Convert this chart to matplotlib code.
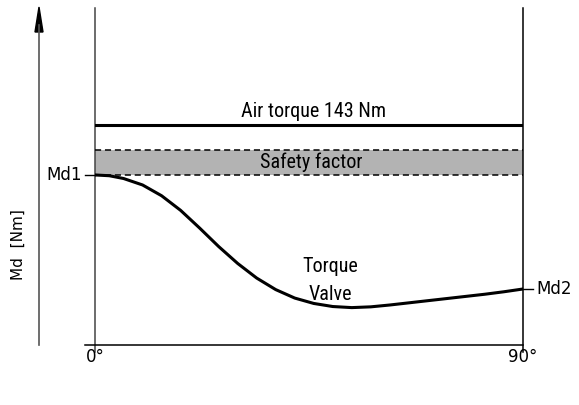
import matplotlib.pyplot as plt
from matplotlib.lines import Line2D

# torque curve of the valve over the opening angle
angle = [0, 3, 6, 10, 14, 18, 22, 26, 30, 34, 38, 42, 46, 50, 54, 58, 62, 66, 70, 74, 78, 82, 86, 90]
torque = [110.5, 110.0, 108.2, 104.0, 97.0, 87.5, 76.0, 64.0, 53.0, 43.5, 36.0, 30.5, 27.0, 25.0, 24.3, 24.8, 26.0, 27.4, 28.8, 30.2, 31.6, 33.0, 34.6, 36.4]

air_torque = 143
safety_top = 126.8
md1 = torque[0]
md2 = torque[-1]

W, H = 579, 405
fig = plt.figure(figsize=(W / 100, H / 100), dpi=100)

# plot area: 0..90 deg between x=95 and x=523, 0..219 Nm from the baseline up
x0, x1 = 95, 523
yb, yt = 345, 8
ax = fig.add_axes([x0 / W, 1 - yb / H, (x1 - x0) / W, (yb - yt) / H])
ymax = 219
ax.set_xlim(0, 90)
ax.set_ylim(0, ymax)
ax.axis('off')

deg_px = 90 / (x1 - x0)
nm_px = ymax / (yb - yt)

font = ['Roboto Condensed', 'Liberation Sans Narrow', 'Lato', 'DejaVu Sans']
font2 = ['DejaVu Sans']

# frame: two verticals and the baseline
ax.add_line(Line2D([0, 0], [-7 * nm_px, ymax], color='#444444', lw=1.1, clip_on=False))
ax.add_line(Line2D([90, 90], [-7 * nm_px, ymax], color='black', lw=1.1, clip_on=False))
ax.add_line(Line2D([-10 * deg_px, 90], [0, 0], color='black', lw=1.1, clip_on=False))

# safety band and air torque
ax.fill_between([0, 90], md1, safety_top, color='#b3b3b3', lw=0)
ax.plot([0, 90], [safety_top, safety_top], color='black', lw=1.1, ls=(0, (4, 2.5)))
ax.plot([0, 90], [md1, md1], color='black', lw=1.1, ls=(0, (4, 2.5)))
ax.plot([0, 90], [air_torque, air_torque], color='black', lw=2.2)

ax.plot(angle, torque, color='black', lw=2.2, solid_capstyle='round')

# Md1 / Md2 markers
ax.add_line(Line2D([-10 * deg_px, 0], [md1, md1], color='black', lw=1, clip_on=False))
ax.add_line(Line2D([90, 90 + 10 * deg_px], [md2, md2], color='black', lw=1, clip_on=False))
ax.text(-13 * deg_px, md1, 'Md1', ha='right', va='center', fontsize=12, family=font2, clip_on=False)
ax.text(90 + 13 * deg_px, md2, 'Md2', ha='left', va='center', fontsize=12, family=font2, clip_on=False)

ax.text(0, -12 * nm_px, '0°', ha='center', va='center', fontsize=12, family=font2)
ax.text(90, -12 * nm_px, '90°', ha='center', va='center', fontsize=12, family=font2)

ax.text(46, air_torque + 13 * nm_px, 'Air torque 143 Nm', ha='center', va='center', fontsize=14.5, family=font)
ax.text(45.5, (md1 + safety_top) / 2, 'Safety factor', ha='center', va='center', fontsize=14.5, family=font)
ax.text(49.5, 51, 'Torque', ha='center', va='center', fontsize=14.5, family=font)
ax.text(49.5, 32.5, 'Valve', ha='center', va='center', fontsize=14.5, family=font)

# torque axis arrow on the left
fig.add_artist(Line2D([39 / W, 39 / W], [1 - 345 / H, 1 - 25 / H], color='#555555', lw=1.2))
fig.patches.append(plt.Polygon([[39 / W, 1 - 7 / H], [35 / W, 1 - 32 / H], [43 / W, 1 - 32 / H]],
                               closed=True, color='black', transform=fig.transFigure))
fig.text(18 / W, 1 - 245 / H, 'Md  [Nm]', rotation=90, ha='center', va='center', fontsize=11, family=font2)

fig.savefig('out.png', dpi=100)
